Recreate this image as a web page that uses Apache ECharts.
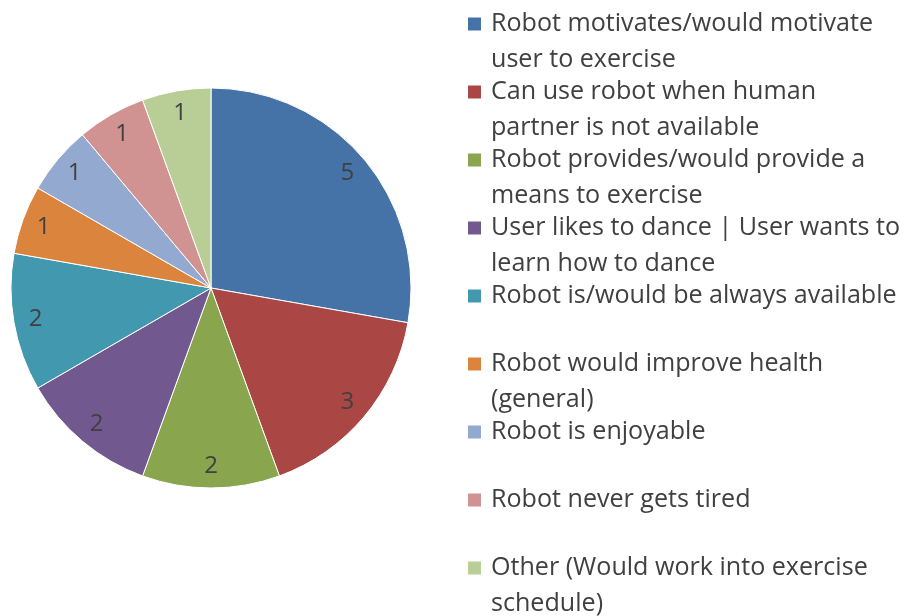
<!DOCTYPE html>
<html>
<head>
<meta charset="utf-8">
<script src="https://cdn.jsdelivr.net/npm/echarts@6/dist/echarts.min.js"></script>
<style>
  html, body { margin: 0; padding: 0; background: #fff; }
  #chart { width: 906px; height: 616px; }
</style>
</head>
<body>
<div id="chart"></div>
<script>
// reasons given by participants
var categories = [
  'Robot motivates/would motivate user to exercise',
  'Can use robot when human partner is not available',
  'Robot provides/would provide a means to exercise',
  'User likes to dance | User wants to learn how to dance',
  'Robot is/would be always available',
  'Robot would improve health (general)',
  'Robot is enjoyable',
  'Robot never gets tired',
  'Other (Would work into exercise schedule)'
]
// legend text, wrapped like the original
var legendLines = [
  ['Robot motivates/would motivate', 'user to exercise'],
  ['Can use robot when human', 'partner is not available'],
  ['Robot provides/would provide a', 'means to exercise'],
  ['User likes to dance | User wants to', 'learn how to dance'],
  ['Robot is/would be always available'],
  ['Robot would improve health', '(general)'],
  ['Robot is enjoyable'],
  ['Robot never gets tired'],
  ['Other (Would work into exercise', 'schedule)']
]
var counts = [5, 3, 2, 2, 2, 1, 1, 1, 1]
var colors = ['#4572A7', '#AA4643', '#89A54E', '#71588F', '#4198AF', '#DB843D', '#93A9CF', '#D19392', '#B9CD96']

var chart = echarts.init(document.getElementById('chart'))

var pieData = categories.map(function (c, i) {
  return { name: c, value: counts[i] }
})

var option = {
  color: colors,
  animation: false,
  legend: {
    orient: 'vertical',
    left: 466,
    top: -30,
    height: 800,
    padding: 0,
    itemWidth: 15,
    itemHeight: 15,
    itemGap: -40,
    icon: 'rect',
    selectedMode: false,
    textStyle: {
      fontFamily: 'Open Sans',
      fontSize: 25.1,
      lineHeight: 36,
      color: '#404040',
      padding: [0, 0, 0, 4]
    },
    formatter: function (name) {
      var l = legendLines[categories.indexOf(name)]
      // three lines each so the square sits on the first line
      return ' \n' + l[0] + '\n' + (l[1] || ' ')
    },
    data: categories
  },
  series: [
    {
      type: 'pie',
      center: [211, 288],
      radius: [0, 200],
      startAngle: 90,
      clockwise: true,
      silent: true,
      label: { show: false },
      labelLine: { show: false },
      itemStyle: { borderColor: '#fff', borderWidth: 1 },
      data: pieData
    },
    {
      // transparent ring only used to place the value labels
      type: 'pie',
      center: [211, 288],
      radius: [150, 200],
      startAngle: 90,
      clockwise: true,
      silent: true,
      itemStyle: { color: 'rgba(0,0,0,0)' },
      label: {
        show: true,
        position: 'inside',
        formatter: '{c}',
        fontFamily: 'Open Sans',
        fontSize: 24,
        color: '#404040'
      },
      labelLine: { show: false },
      data: pieData
    }
  ]
}

chart.setOption(option)
</script>
</body>
</html>
